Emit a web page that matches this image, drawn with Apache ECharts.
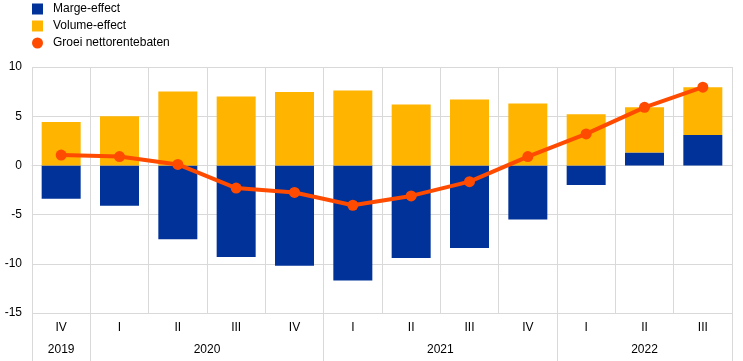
<!DOCTYPE html>
<html>
<head>
<meta charset="utf-8">
<script src="https://cdn.jsdelivr.net/npm/echarts@6/dist/echarts.min.js"></script>
<style>html,body{margin:0;padding:0;background:#fff}#c{width:743px;height:361px}</style>
</head>
<body>
<div id="c"></div>
<script>
const quarters = ['IV','I','II','III','IV','I','II','III','IV','I','II','III'];
const years = ['2019','2020','2021','2022'];
const yearCounts = [1,4,4,3];
const marge = [-3.4,-4.1,-7.5,-9.3,-10.2,-11.7,-9.4,-8.4,-5.5,-2.0,1.3,3.1];
const volume = [4.4,5.0,7.5,7.0,7.45,7.6,6.2,6.7,6.3,5.2,4.6,4.85];
const groei = [1.05,0.9,0.1,-2.3,-2.75,-4.05,-3.1,-1.65,0.9,3.2,5.9,7.95];
const yTicks = [-15,-10,-5,0,5,10];

// build a half-slot axis (2 points per quarter) for year labels and separators
const n = quarters.length * 2 + 1;
const yearAxisData = new Array(n).fill('');
const sepIdx = [0];
let pos = 0;
years.forEach((y, i) => {
  const c = yearCounts[i];
  yearAxisData[pos * 2 + c] = y;
  pos += c;
  sepIdx.push(pos * 2);
});
const labelIdx = yearAxisData.map((v, i) => v ? i : -1).filter(i => i >= 0);

const gridColor = '#d9d9d9';
const font = 'Arial, "Liberation Sans", sans-serif';
const chart = echarts.init(document.getElementById('c'));
chart.setOption({
  animation: false,
  textStyle: { fontFamily: font },
  legend: {
    orient: 'vertical', left: 32, top: 3, padding: 0, itemWidth: 11, itemHeight: 11, itemGap: 5,
    textStyle: { fontSize: 12, color: '#000', fontFamily: font, padding: [0,0,0,5] },
    data: [
      { name: 'Marge-effect', icon: 'rect' },
      { name: 'Volume-effect', icon: 'rect' },
      { name: 'Groei nettorentebaten', icon: 'circle' }
    ]
  },
  grid: { left: 32, right: 11, top: 67, bottom: 48, containLabel: false },
  xAxis: [
    {
      type: 'category', data: quarters, position: 'bottom',
      axisLine: { show: true, lineStyle: { color: gridColor, width: 1 } },
      axisTick: { show: false },
      axisLabel: { color: '#000', fontSize: 12, margin: 9, interval: 0 },
      splitLine: { show: true, lineStyle: { color: gridColor, width: 1 } }
    },
    {
      type: 'category', data: yearAxisData, position: 'bottom', boundaryGap: false,
      axisLine: { show: false },
      axisTick: { show: true, length: 48, interval: (i) => sepIdx.includes(i), lineStyle: { color: gridColor, width: 1 } },
      axisLabel: { color: '#000', fontSize: 12, margin: 31, interval: (i) => labelIdx.includes(i) },
      splitLine: { show: false }
    }
  ],
  yAxis: {
    type: 'value', min: yTicks[0], max: yTicks[yTicks.length - 1], interval: 5,
    axisLine: { show: false }, axisTick: { show: false },
    axisLabel: { color: '#000', fontSize: 12, margin: 10 },
    splitLine: { lineStyle: { color: gridColor, width: 1 } }
  },
  series: [
    { name: 'Marge-effect', type: 'bar', stack: 's', data: marge, barWidth: 39, itemStyle: { color: '#003299' }, xAxisIndex: 0 },
    { name: 'Volume-effect', type: 'bar', stack: 's', data: volume, barWidth: 39, itemStyle: { color: '#FFB400' }, xAxisIndex: 0 },
    { name: 'Groei nettorentebaten', type: 'line', data: groei, xAxisIndex: 0, z: 5,
      symbol: 'circle', symbolSize: 11, lineStyle: { color: '#FF4B00', width: 4 }, itemStyle: { color: '#FF4B00' } }
  ]
});
</script>
</body>
</html>
